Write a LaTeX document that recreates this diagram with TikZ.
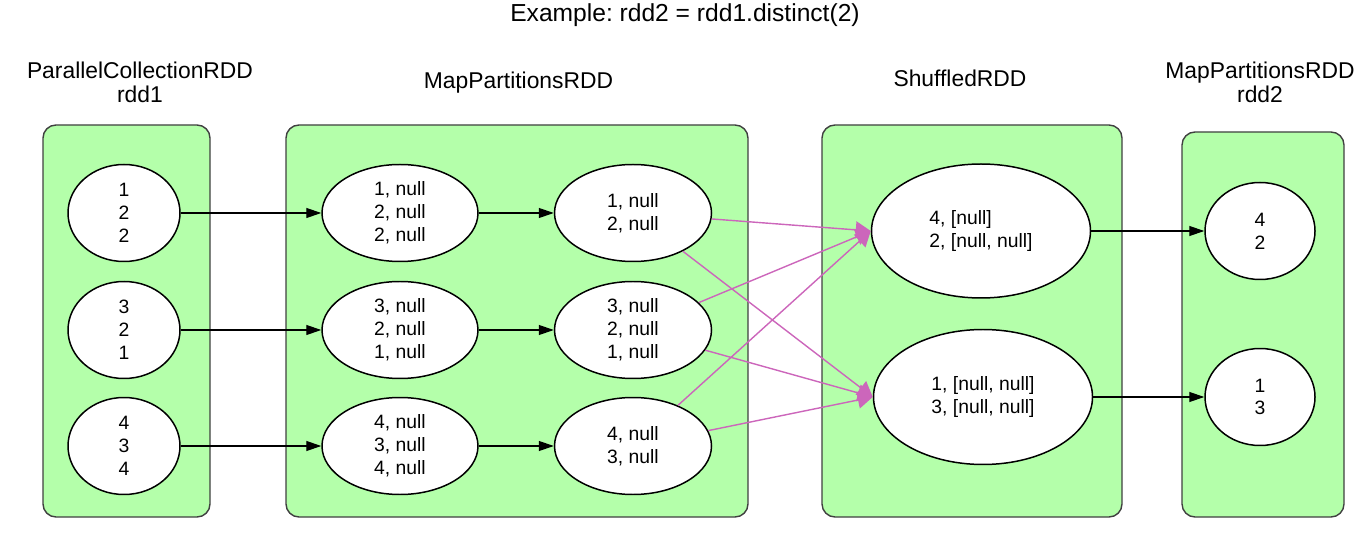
\documentclass[tikz,border=0pt]{standalone}
\usepackage{fontspec}
\setmainfont{Liberation Sans}
\usetikzlibrary{shapes.geometric,arrows.meta}
\definecolor{rddgreen}{RGB}{180,255,170}
\definecolor{shufpink}{RGB}{204,102,187}
\frenchspacing

\begin{document}
\begin{tikzpicture}[
        rddbox/.style={draw=black!75,fill=rddgreen,line width=0.8pt,rounded corners=0.26cm},
        part/.style={ellipse,draw,fill=white,line width=0.85pt,inner sep=0pt,align=center,
            font=\fontsize{11}{13}\selectfont},
        headlabel/.style={align=center,font=\fontsize{13}{13.6}\selectfont},
        dep/.style={-{Triangle[length=0.3cm,width=0.2cm]},line width=0.7pt},
        shuf/.style={-{Triangle[length=0.3cm,width=0.34cm]},color=shufpink,line width=0.8pt}
    ]
            \useasboundingbox (0,0) rectangle (27.4,10.68);
            %标题
            \node[anchor=base,font=\fontsize{14}{16}\selectfont] (T) at (13.70,10.24) {Example: rdd2 = rdd1.distinct(2)};
            %绘制每个RDD上方的名称
            \node[headlabel] (H1) at (2.80,9.04) {ParallelCollectionRDD\\rdd1};
            \node[headlabel,anchor=base] (H2) at (10.37,8.90) {MapPartitionsRDD};
            \node[headlabel,anchor=base] (H3) at (19.20,8.94) {ShuffledRDD};
            \node[headlabel] (H4) at (25.20,9.04) {MapPartitionsRDD\\rdd2};
            %绘制RDD的圆角矩形
            \draw[rddbox] (0.86,0.34) rectangle (4.20,8.18);
            \draw[rddbox] (5.72,0.34) rectangle (14.96,8.18);
            \draw[rddbox] (16.44,0.34) rectangle (22.44,8.18);
            \draw[rddbox] (23.64,0.34) rectangle (26.88,8.04);
            %rdd1的分区
            \node[part,minimum width=2.24cm,minimum height=1.94cm] (P1) at (2.48,6.42) {1\\2\\2};
            \node[part,minimum width=2.24cm,minimum height=1.94cm] (P2) at (2.48,4.08) {3\\2\\1};
            \node[part,minimum width=2.24cm,minimum height=1.94cm] (P3) at (2.48,1.76) {4\\3\\4};
            %map之后的分区
            \node[part,minimum width=3.12cm,minimum height=1.94cm] (M1) at (8.00,6.42) {1, null\\2, null\\2, null};
            \node[part,minimum width=3.12cm,minimum height=1.94cm] (M2) at (8.00,4.08) {3, null\\2, null\\1, null};
            \node[part,minimum width=3.12cm,minimum height=1.94cm] (M3) at (8.00,1.76) {4, null\\3, null\\4, null};
            %combine之后的分区
            \node[part,minimum width=3.14cm,minimum height=1.94cm] (N1) at (12.66,6.42) {1, null\\2, null};
            \node[part,minimum width=3.14cm,minimum height=1.94cm] (N2) at (12.66,4.08) {3, null\\2, null\\1, null};
            \node[part,minimum width=3.14cm,minimum height=1.94cm] (N3) at (12.66,1.76) {4, null\\3, null};
            %shuffle之后的分区
            \node[part,align=left,minimum width=4.38cm,minimum height=2.68cm] (S1) at (19.62,6.06) {4, [null]\\2, [null, null]};
            \node[part,align=left,minimum width=4.38cm,minimum height=2.70cm] (S2) at (19.66,2.74) {1, [null, null]\\3, [null, null]};
            %rdd2的分区
            \node[part,minimum width=2.20cm,minimum height=1.94cm] (R1) at (25.20,6.06) {4\\2};
            \node[part,minimum width=2.20cm,minimum height=1.94cm] (R2) at (25.20,2.74) {1\\3};
            %窄依赖
            \foreach \i in {1,2,3}{\draw[dep] (P\i) -- (M\i); \draw[dep] (M\i) -- (N\i);}
            \foreach \i in {1,2}{\draw[dep] (S\i) -- (R\i);}
            %shuffle依赖
            \foreach \i in {1,2,3}{\draw[shuf] (N\i) -- (S1.west); \draw[shuf] (N\i) -- (S2.west);}
        \end{tikzpicture}
\end{document}
